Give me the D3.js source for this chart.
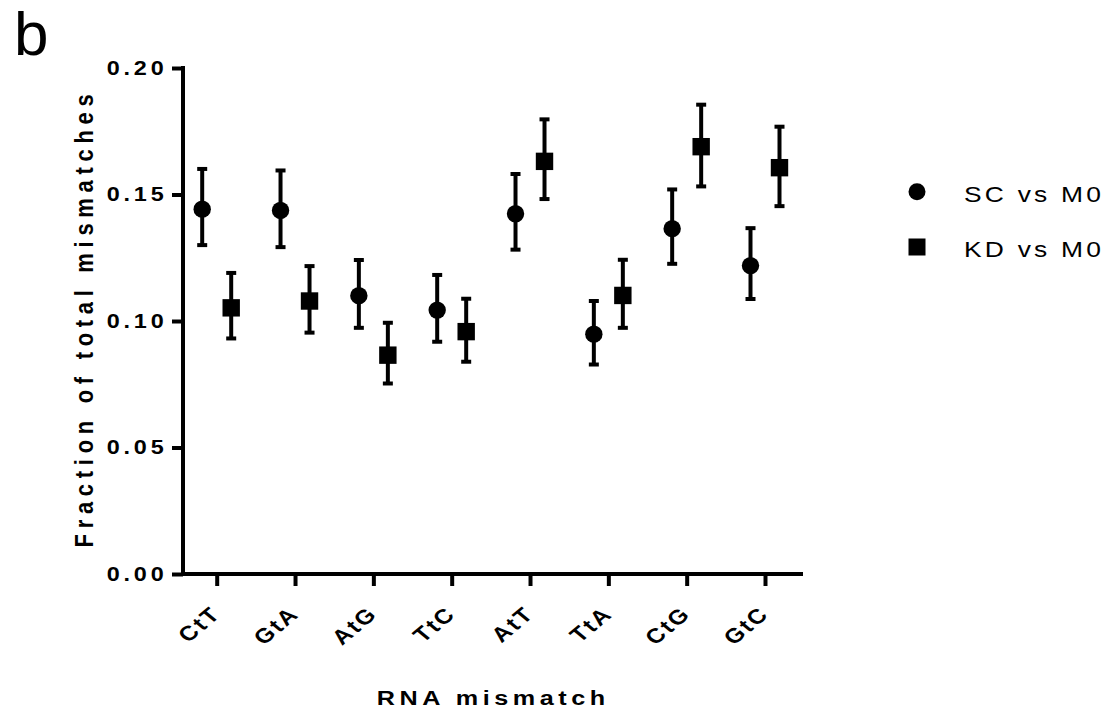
<!DOCTYPE html>
<html><head><meta charset="utf-8">
<script src="https://cdn.jsdelivr.net/npm/d3@7"></script>
<style>body{margin:0;background:#fff}svg{display:block}</style>
</head><body><svg id="c" width="1114" height="714"></svg>
<script>
const categories = ["CtT","GtA","AtG","TtC","AtT","TtA","CtG","GtC"];
const seriesNames = ["SC vs M0","KD vs M0"];
const scMean = [0.1442,0.1437,0.1100,0.1043,0.1424,0.0948,0.1365,0.1219];
const scLow  = [0.1300,0.1292,0.0973,0.0918,0.1282,0.0828,0.1226,0.1087];
const scHigh = [0.1601,0.1595,0.1241,0.1182,0.1581,0.1079,0.1520,0.1367];
const kdMean = [0.1052,0.1079,0.0865,0.0958,0.1631,0.1101,0.1689,0.1606];
const kdLow  = [0.0931,0.0954,0.0753,0.0839,0.1482,0.0973,0.1532,0.1454];
const kdHigh = [0.1190,0.1217,0.0993,0.1088,0.1797,0.1242,0.1855,0.1768];
const yTicks = [0.00,0.05,0.10,0.15,0.20];
const yTitle = "Fraction of total mismatches";
const xTitle = "RNA mismatch";
const panelLabel = "b";

const svg = d3.select("#c");
const FONT = "'Liberation Sans', Arial, Helvetica, sans-serif";
const SX = 1.2; // horizontal glyph stretch seen in the reference text
const plotLeft = 183, plotRight = 803, plotTop = 68, plotBottom = 574;

const y = d3.scaleLinear().domain([0, 0.20]).range([plotBottom, plotTop]);
const x = d3.scalePoint().domain(categories).range([216.7, 765]);
const offset = d3.scaleOrdinal().domain(seriesNames).range([-14.5, 14.5]);

svg.append("text").attr("x", 14).attr("y", 55)
  .style("font-family", FONT).style("font-size", "62px").text(panelLabel);

const yAxis = svg.append("g").attr("transform", `translate(${plotLeft},0)`)
  .call(d3.axisLeft(y).tickValues(yTicks).tickFormat(d3.format(".2f")).tickSize(11).tickSizeOuter(0));
yAxis.select(".domain").remove();
yAxis.append("line").attr("x1", 0).attr("x2", 0).attr("y1", plotTop - 2).attr("y2", plotBottom + 2)
  .attr("stroke", "#000").attr("stroke-width", 4);
yAxis.selectAll(".tick line").attr("stroke-width", 4);
yAxis.selectAll(".tick text").attr("x", 0)
  .attr("transform", `translate(-15.5,0) scale(${SX},1)`)
  .style("font-family", FONT).style("font-size", "19.5px")
  .style("font-weight", "bold").style("letter-spacing", "3.2px").attr("fill", "#000");

const xAxis = svg.append("g").attr("transform", `translate(0,${plotBottom})`)
  .call(d3.axisBottom(x).tickSize(12).tickSizeOuter(0));
xAxis.select(".domain").remove();
xAxis.append("line").attr("x1", plotLeft - 2).attr("x2", plotRight).attr("y1", 0).attr("y2", 0)
  .attr("stroke", "#000").attr("stroke-width", 4);
xAxis.selectAll(".tick line").attr("stroke-width", 4);
xAxis.selectAll(".tick text")
  .attr("x", 0).attr("y", 0).attr("dy", "0.35em")
  .attr("transform", `translate(-1,36) scale(${SX},1) rotate(-45)`)
  .style("text-anchor", "end")
  .style("font-family", FONT).style("font-size", "20.5px")
  .style("font-weight", "bold").style("letter-spacing", "2px").attr("fill", "#000");

svg.append("text").attr("transform", `translate(93,318) scale(${SX},1) rotate(-90)`)
  .style("text-anchor", "middle").style("font-family", FONT).style("font-size", "22px")
  .style("font-weight", "bold").style("letter-spacing", "5.7px").text(yTitle);
svg.append("text").attr("transform", `translate(493.3,705) scale(${SX},1)`)
  .style("text-anchor", "middle").style("font-family", FONT).style("font-size", "21px")
  .style("font-weight", "bold").style("letter-spacing", "3.8px").text(xTitle);

const series = [
  {name: seriesNames[0], mean: scMean, lo: scLow, hi: scHigh, shape: "circle"},
  {name: seriesNames[1], mean: kdMean, lo: kdLow, hi: kdHigh, shape: "square"}
];
const marks = svg.append("g");
series.forEach(s => {
  const rows = categories.map((c, i) => ({c, m: s.mean[i], lo: s.lo[i], hi: s.hi[i]}));
  const g = marks.selectAll(null).data(rows).enter().append("g")
    .attr("transform", d => `translate(${x(d.c) + offset(s.name)},0)`);
  g.append("line").attr("x1", 0).attr("x2", 0).attr("y1", d => y(d.lo)).attr("y2", d => y(d.hi))
    .attr("stroke", "#000").attr("stroke-width", 4);
  g.append("line").attr("x1", -5).attr("x2", 5).attr("y1", d => y(d.hi)).attr("y2", d => y(d.hi))
    .attr("stroke", "#000").attr("stroke-width", 4);
  g.append("line").attr("x1", -5).attr("x2", 5).attr("y1", d => y(d.lo)).attr("y2", d => y(d.lo))
    .attr("stroke", "#000").attr("stroke-width", 4);
  if (s.shape === "circle") {
    g.append("circle").attr("cx", 0).attr("cy", d => y(d.m)).attr("r", 8.7).attr("fill", "#000");
  } else {
    g.append("rect").attr("x", -8.7).attr("y", d => y(d.m) - 8.7).attr("width", 17.4).attr("height", 17.4).attr("fill", "#000");
  }
});

const legendY = d3.scalePoint().domain(seriesNames).range([191.7, 247]);
const lg = svg.append("g");
series.forEach(s => {
  const cy = legendY(s.name);
  if (s.shape === "circle") lg.append("circle").attr("cx", 917).attr("cy", cy).attr("r", 8.5).attr("fill", "#000");
  else lg.append("rect").attr("x", 908.5).attr("y", cy - 8.5).attr("width", 17).attr("height", 17).attr("fill", "#000");
  lg.append("text").attr("transform", `translate(964,${cy + 10}) scale(${SX},1)`)
    .style("font-family", FONT).style("font-size", "22px").style("letter-spacing", "2.7px").text(s.name);
});
</script></body></html>
